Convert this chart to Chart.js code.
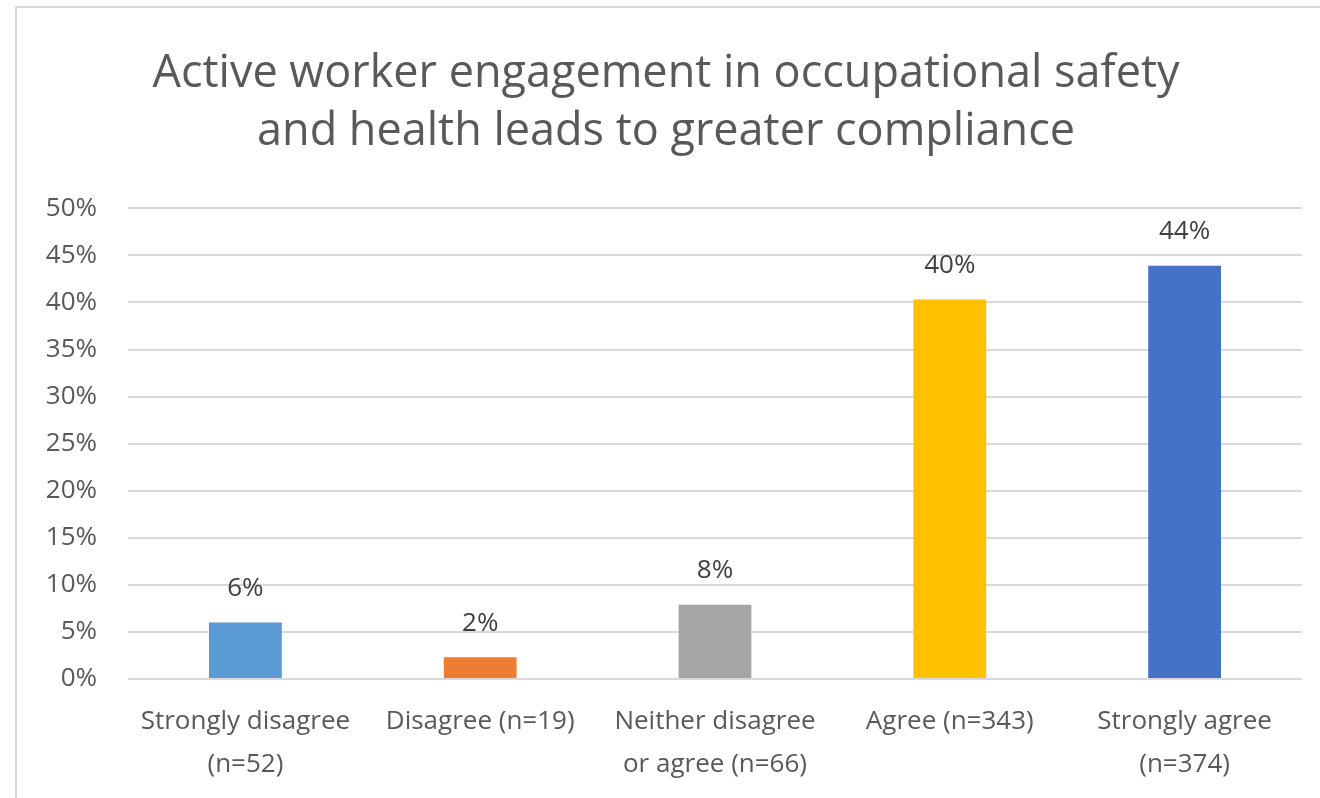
<!DOCTYPE html>
<html>
<head>
<meta charset="utf-8">
<script src="https://cdn.jsdelivr.net/npm/chart.js@4"></script>
<style>
  html, body { margin: 0; padding: 0; background: #fff; }
  #wrap { position: relative; width: 1320px; height: 798px; overflow: hidden; }
  #frame { position: absolute; left: 15px; top: 6px; width: 1400px; height: 900px; border: 2px solid #d9d9d9; box-sizing: border-box; }
  canvas { position: absolute; left: 0; top: 0; }
</style>
</head>
<body>
<div id="wrap">
  <div id="frame"></div>
  <canvas id="c" width="1320" height="798"></canvas>
</div>
<script>
const titleLines = ["Active worker engagement in occupational safety", "and health leads to greater compliance"];
const categories = [["Strongly disagree", "(n=52)"], ["Disagree (n=19)"], ["Neither disagree", "or agree (n=66)"], ["Agree (n=343)"], ["Strongly agree", "(n=374)"]];
const values = [6.0, 2.3, 7.9, 40.3, 43.9];
const valueLabels = ["6%", "2%", "8%", "40%", "44%"];
const barColors = ["#5B9BD5", "#ED7D31", "#A5A5A5", "#FFC000", "#4472C4"];

const FONT = "'Open Sans', sans-serif";

const labelPlugin = {
  id: 'barLabels',
  afterDatasetsDraw(chart) {
    const ctx = chart.ctx;
    const meta = chart.getDatasetMeta(0);
    ctx.save();
    ctx.font = "26px " + FONT;
    ctx.fillStyle = "#404040";
    ctx.textAlign = "center";
    ctx.textBaseline = "middle";
    meta.data.forEach((bar, i) => {
      ctx.fillText(valueLabels[i], bar.x, bar.y - 34);
    });
    ctx.restore();
  }
};

new Chart(document.getElementById('c'), {
  type: 'bar',
  data: {
    labels: categories,
    datasets: [{
      data: values,
      backgroundColor: barColors,
      borderWidth: 0,
      barPercentage: 0.31,
      categoryPercentage: 1.0
    }]
  },
  options: {
    responsive: false,
    animation: false,
    devicePixelRatio: 1,
    layout: { padding: { left: 30, right: 18, top: 46, bottom: 0 } },
    plugins: {
      legend: { display: false },
      tooltip: { enabled: false },
      title: {
        display: true,
        text: titleLines,
        color: "#595959",
        font: { family: FONT, size: 45, weight: 'normal', lineHeight: 1.27 },
        padding: { top: 0, bottom: 48 }
      }
    },
    scales: {
      y: {
        min: 0, max: 50,
        ticks: {
          stepSize: 5,
          callback: v => v + "%",
          color: "#595959",
          font: { family: FONT, size: 26 },
          padding: 31
        },
        grid: { color: "#d9d9d9", lineWidth: 2, drawTicks: false },
        border: { display: false },
        afterFit(axis) { axis.width = 98; }
      },
      x: {
        ticks: {
          color: "#595959",
          font: { family: FONT, size: 26, lineHeight: 1.62 },
          padding: 22,
          maxRotation: 0,
          autoSkip: false
        },
        grid: { display: false, drawTicks: false },
        border: { display: false },
        afterFit(axis) { axis.height = 119; }
      }
    }
  },
  plugins: [labelPlugin]
});
</script>
</body>
</html>
